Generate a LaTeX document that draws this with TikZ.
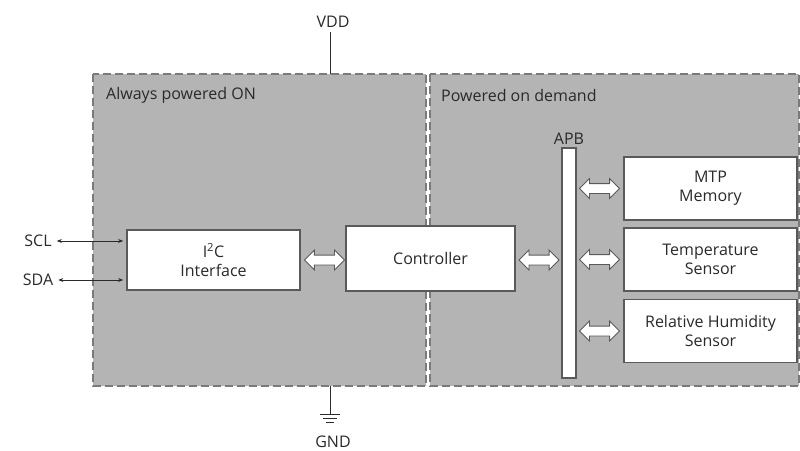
\documentclass[tikz,border=0pt]{standalone}
\usepackage{fontspec}
\setmainfont{Open Sans}
\usetikzlibrary{shapes,arrows.meta,positioning}
\definecolor{regiongray}{HTML}{B4B4B4}
\definecolor{edgegray}{HTML}{7A7A7A}
\definecolor{boxedge}{HTML}{5A5A5A}
\definecolor{txtgray}{HTML}{2A2A2A}
\tikzset{
  region/.style={fill=regiongray, draw=edgegray, line width=1.3pt, dash pattern=on 8pt off 4pt},
  blockbox/.style={draw=boxedge, fill=white, line width=1.6pt, align=center, text=txtgray,
    minimum width=173pt, minimum height=63pt, inner sep=0pt},
  fatarrow/.style={double arrow, draw=boxedge, fill=white, line width=0.9pt,
    minimum height=40pt, inner xsep=0pt, inner ysep=4.5pt, double arrow head extend=5pt},
  pinlabel/.style={text=txtgray, inner sep=1pt},
  pinline/.style={txtgray, line width=0.7pt, {Stealth[length=5pt,width=4pt]}-{Stealth[length=5pt,width=4pt]}}
}
\begin{document}
\begin{tikzpicture}[x=1pt,y=-1pt,font=\fontsize{16}{19}\selectfont]
	\useasboundingbox (0,0) rectangle (800,450);
	% supply lines
	\node[pinlabel] (vdd) at (333,22) {VDD};
	\node[pinlabel] (gnd) at (333,442) {GND};
	\draw[txtgray, line width=0.8pt] (330,32) -- (330,74);
	\draw[txtgray, line width=0.8pt] (330,386) -- (330,414);
	\draw[txtgray, line width=0.8pt] (320,414) -- (340,414) (323,418) -- (337,418) (326,422) -- (334,422);
	% power domains
	\draw[region] (93,74) rectangle (426,386);
	\draw[region] (430,74) rectangle (799,386);
	\node[pinlabel, anchor=west] (alwayson) at (105,95) {Always powered ON};
	\node[pinlabel, anchor=west] (ondemand) at (440,95) {Powered on demand};
	% blocks
	\node[blockbox, minimum width=173pt, minimum height=60pt] (i2c) at (213.5,260) {I\textsuperscript{2}C\\Interface};
	\node[fatarrow, right=3pt of i2c] (arr1) {};
	\node[blockbox, minimum width=169pt, minimum height=65pt] (ctrl) at (430.5,258.5) {Controller};
	\node[fill=white, draw=boxedge, line width=1.2pt, minimum width=14pt, minimum height=230pt, inner sep=0pt] (apb) at (569,263) {};
	\node[pinlabel, above=2pt of apb] (apblabel) {APB};
	\node[fatarrow] (arr2) at (539,260) {};
	\node[blockbox] (mtp) at (710.5,188.5) {MTP\\Memory};
	\node[blockbox] (temp) at (710.5,259.5) {Temperature\\Sensor};
	\node[blockbox] (hum) at (710.5,331) {Relative Humidity\\Sensor};
	\node[fatarrow, left=3pt of mtp] (arr3) {};
	\node[fatarrow, left=3pt of temp] (arr4) {};
	\node[fatarrow, left=3pt of hum] (arr5) {};
	% serial pins
	\node[pinlabel] (scl) at (38,241) {SCL};
	\node[pinlabel] (sda) at (38,280) {SDA};
	\draw[pinline] ([xshift=4pt]scl.east) -- ([xshift=-3pt]scl.east -| i2c.west);
	\draw[pinline] ([xshift=4pt]sda.east) -- ([xshift=-3pt]sda.east -| i2c.west);
\end{tikzpicture}
\end{document}
